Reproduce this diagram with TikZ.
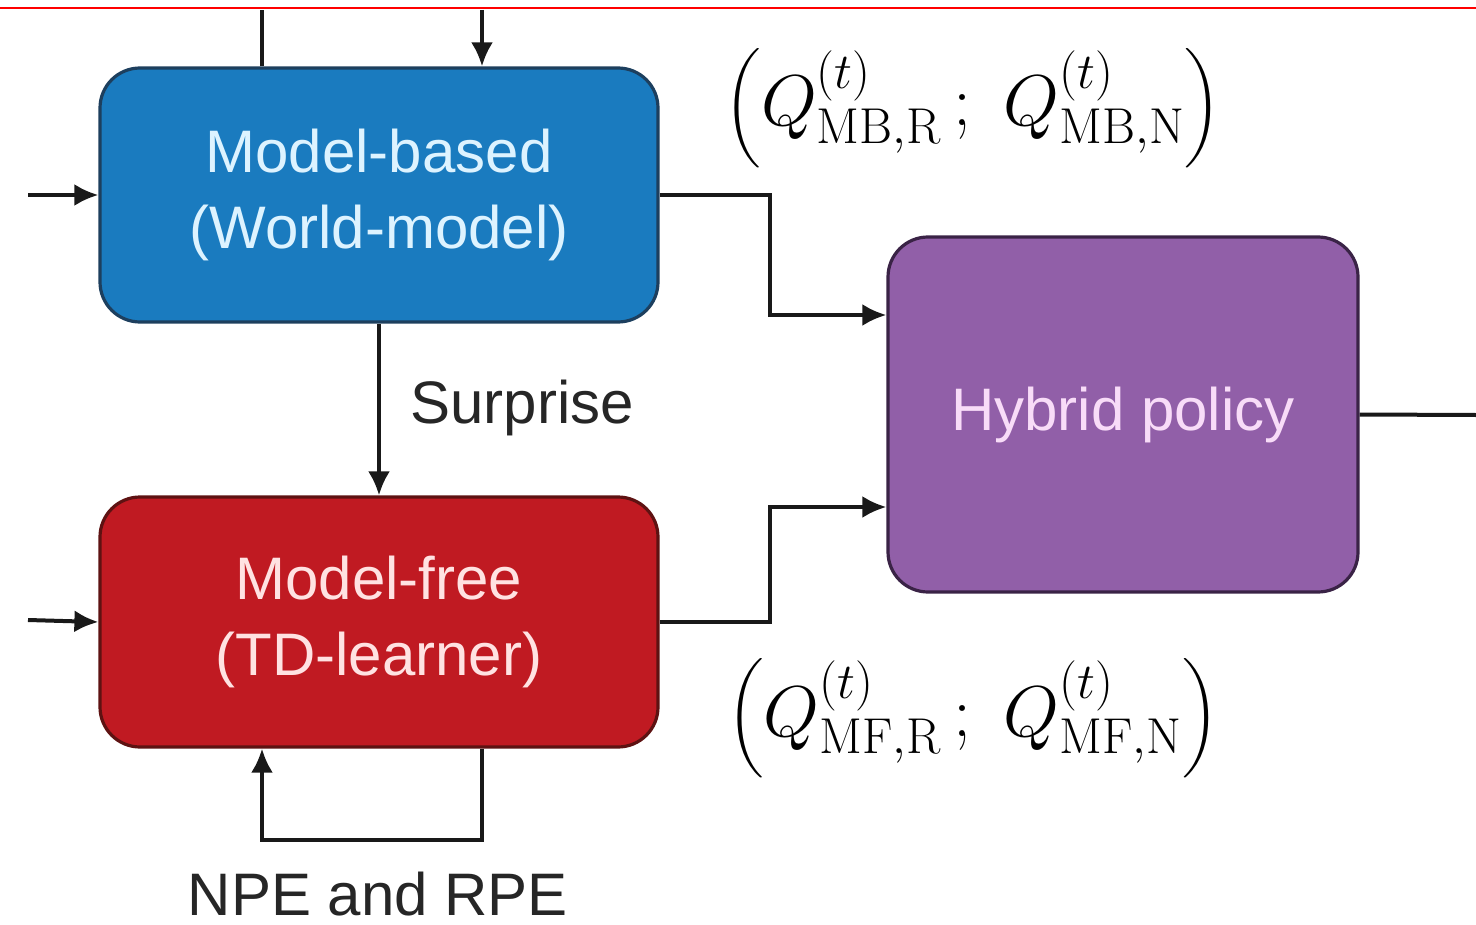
\RequirePackage{fix-cm}
\documentclass[tikz,border=0pt]{standalone}
\usepackage{amsmath}
\usepackage[no-math]{fontspec}
\setmainfont{Liberation Sans}
\usetikzlibrary{arrows.meta}
\definecolor{mbfill}{HTML}{1A7BBF}
\definecolor{mbdraw}{HTML}{1D3F5E}
\definecolor{mbtext}{HTML}{DDF3FF}
\definecolor{mffill}{HTML}{C01A22}
\definecolor{mfdraw}{HTML}{5E1212}
\definecolor{mftext}{HTML}{FFE2E2}
\definecolor{hpfill}{HTML}{915FA8}
\definecolor{hpdraw}{HTML}{3A2346}
\definecolor{hptext}{HTML}{F8DCF8}
\DeclareMathSizes{36}{36}{25.2}{18}
\begin{document}
\begin{tikzpicture}[x=0.5pt,y=-0.5pt,
  box/.style={rounded corners=20pt,line width=1.6pt,align=center,
    font=\fontsize{30}{38}\selectfont,inner sep=0pt},
  conn/.style={line width=2pt,black!90},
  arr/.style={conn,-{Latex[length=12pt,width=11pt]}},
  lbl/.style={font=\fontsize{30}{36}\selectfont,text=black!85,inner sep=0pt},
  mathlbl/.style={inner sep=0pt,font=\fontsize{36}{44}\selectfont}]
\useasboundingbox (0,0) rectangle (1476,925);
\draw[red,line width=1pt] (0,8) -- (1476,8);

\node[box,fill=mbfill,draw=mbdraw,text=mbtext,minimum width=279pt,minimum height=127pt] (mb) at (379,195) {Model-based\\(World-model)};
\node[box,fill=mffill,draw=mfdraw,text=mftext,minimum width=279pt,minimum height=125pt] (mf) at (379,622) {Model-free\\(TD-learner)};
\node[box,fill=hpfill,draw=hpdraw,text=hptext,minimum width=235pt,minimum height=177.5pt] (hp) at (1123,414.5) {Hybrid policy};

\coordinate (t1) at (262,10);
\coordinate (t2) at (482,10);
\coordinate (inA) at (28,195);
\coordinate (inB) at (28,620);
\coordinate (j1) at (770,315);
\coordinate (j2) at (770,507);
\coordinate (f1) at (482,840);
\coordinate (f2) at (262,840);
\coordinate (out) at (1476,415);

\draw[conn] (mb.north -| t1) -- (t1);
\draw[arr] (t2) -- (mb.north -| t2);
\draw[arr] (inA) -- (mb.west);
\draw[arr] (inB) -- (mf.west);
\draw[arr] (mb.east) -| (j1) -- (hp.west |- j1);
\draw[arr] (mf.east) -| (j2) -- (hp.west |- j2);
\draw[arr] (mb.south) -- (mf.north);
\draw[arr] (mf.south -| f1) |- (f2) -- (mf.south -| f2);
\draw[conn] (hp.east) -- (out);

\node[lbl,anchor=west] (sur) at (410,408) {Surprise};
\node[lbl,anchor=base] (npe) at (378,915) {NPE and RPE};

\node[mathlbl] (qmb) at (973,108)
  {$\left(Q^{(t)}_{\mathrm{MB,R}}\,;\;Q^{(t)}_{\mathrm{MB,N}}\right)$};
\node[mathlbl] (qmf) at (973,718)
  {$\left(Q^{(t)}_{\mathrm{MF,R}}\,;\;Q^{(t)}_{\mathrm{MF,N}}\right)$};
\end{tikzpicture}
\end{document}
